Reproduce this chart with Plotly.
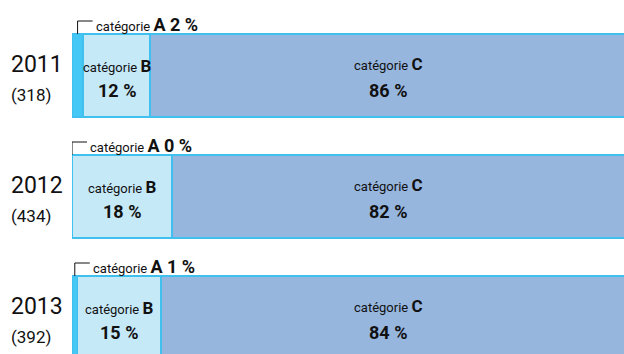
import plotly.graph_objects as go

years = ["2011", "2012", "2013"]
counts = ["(318)", "(434)", "(392)"]
cat_a = [2, 0, 1]
cat_b = [12, 18, 15]
cat_c = [86, 82, 84]

FONT = "Roboto, Liberation Sans Narrow, DejaVu Sans Condensed, sans-serif"
EDGE = "#3fc0ee"
COL_A = "#45c8f5"
COL_B = "#c6e9f8"
COL_C = "#96b6de"
TXT = "#111111"

ypos = list(range(len(years)))
BAR_W = 0.686

fig = go.Figure()
for vals, col, name in [(cat_a, COL_A, "A"), (cat_b, COL_B, "B"), (cat_c, COL_C, "C")]:
    fig.add_trace(go.Bar(
        y=ypos, x=vals, orientation="h", name=name, width=BAR_W,
        marker=dict(color=col, line=dict(color=EDGE, width=1.8)),
        hoverinfo="skip", showlegend=False,
    ))

ann = []
shapes = []
X_MAX = 99
px_per_unit = 552 / X_MAX
for i, y in enumerate(ypos):
    # year labels
    ann.append(dict(xref="paper", yref="y", x=0, y=y, xanchor="left", yanchor="middle",
                    xshift=-63, yshift=11, text=years[i], showarrow=False,
                    font=dict(size=23, color=TXT, family=FONT)))
    ann.append(dict(xref="paper", yref="y", x=0, y=y, xanchor="left", yanchor="middle",
                    xshift=-63, yshift=-19, text=counts[i], showarrow=False,
                    font=dict(size=17, color=TXT, family=FONT)))
    # category B
    bx = cat_a[i] + cat_b[i] / 2
    ann.append(dict(x=bx, y=y, xanchor="center", yanchor="middle", yshift=10,
                    text="catégorie <span style='font-size:17px'><b>B</b></span>",
                    showarrow=False, font=dict(size=13, color=TXT, family=FONT)))
    ann.append(dict(x=bx, y=y, xanchor="center", yanchor="middle", yshift=-15,
                    text=f"<b>{cat_b[i]} %</b>",
                    showarrow=False, font=dict(size=18, color=TXT, family=FONT)))
    # category C
    cx = 56.7
    ann.append(dict(x=cx, y=y, xanchor="center", yanchor="middle", yshift=12,
                    text="catégorie <span style='font-size:17px'><b>C</b></span>",
                    showarrow=False, font=dict(size=13, color=TXT, family=FONT)))
    ann.append(dict(x=cx, y=y, xanchor="center", yanchor="middle", yshift=-15,
                    text=f"<b>{cat_c[i]} %</b>",
                    showarrow=False, font=dict(size=18, color=TXT, family=FONT)))
    # category A bracket + label
    ax = cat_a[i] / 2
    top = y - BAR_W / 2
    lvl = top - 13 / 121
    hx = ax + 15 / px_per_unit
    shapes.append(dict(type="line", xref="x", yref="y", x0=ax, x1=ax, y0=top, y1=lvl,
                       line=dict(color=TXT, width=1)))
    shapes.append(dict(type="line", xref="x", yref="y", x0=ax, x1=hx, y0=lvl, y1=lvl,
                       line=dict(color=TXT, width=1)))
    ann.append(dict(x=hx, y=lvl, xanchor="left", yanchor="middle", yshift=-3, xshift=1,
                    text=f"catégorie <span style='font-size:18px'><b>A {cat_a[i]} %</b></span>",
                    showarrow=False, font=dict(size=13, color=TXT, family=FONT)))

y_top = -75.5 / 121
y_bot = y_top + 354 / 121

fig.update_layout(
    width=624, height=354,
    margin=dict(l=72, r=0, t=0, b=0),
    paper_bgcolor="white", plot_bgcolor="white",
    barmode="stack",
    xaxis=dict(range=[0, X_MAX], visible=False, fixedrange=True),
    yaxis=dict(range=[y_bot, y_top], visible=False, fixedrange=True),
    annotations=ann, shapes=shapes,
    font=dict(family=FONT),
)

fig.write_html("out.html", config={"displayModeBar": False},
               post_script="document.body.style.margin='0';document.body.style.overflow='hidden';")
